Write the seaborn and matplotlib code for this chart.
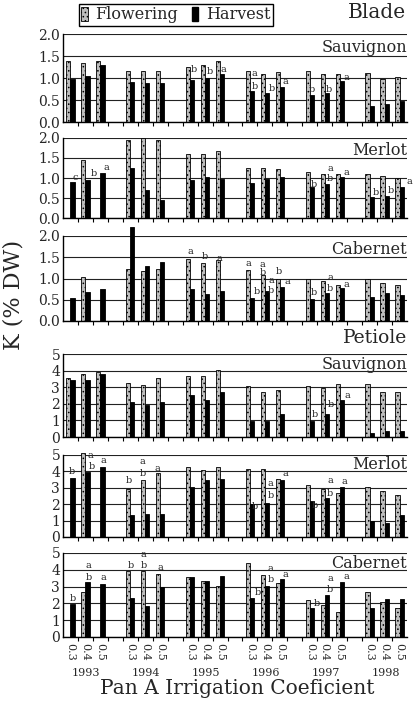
import numpy as np
import pandas as pd
import matplotlib
matplotlib.use('Agg')
import matplotlib.pyplot as plt
import seaborn as sns
from matplotlib.patches import Patch
from matplotlib.colors import to_rgba

# ---------------- data ----------------
years = ['1993', '1994', '1995', '1996', '1997', '1998']
coefs = ['0.3', '0.4', '0.5']
stages = ['Flowering', 'Harvest']
NA = np.nan

blade_sauv_flw = [1.38, 1.34, 1.38, 1.17, 1.17, 1.17, 1.25, 1.30, 1.39, 1.17, 1.08, 1.13, 1.17, 1.08, 1.08, 1.11, 0.98, 1.02]
blade_sauv_hrv = [0.98, 1.05, 1.29, 0.92, 0.89, 0.89, 0.96, 1.00, 1.08, 0.70, 0.66, 0.80, 0.61, 0.66, 0.94, 0.37, 0.42, 0.47]
blade_merl_flw = [NA, 1.45, NA, 1.95, 1.99, 1.95, 1.61, 1.61, 1.68, 1.26, 1.26, 1.22, 1.16, 1.10, 1.10, 1.10, 1.04, 0.99]
blade_merl_hrv = [0.89, 0.95, 1.12, 1.26, 0.71, 0.46, 0.96, 1.03, 0.98, 0.87, 0.98, 1.03, 0.77, 0.85, 1.02, 0.52, 0.55, 0.77]
blade_cab_flw = [NA, 1.03, NA, 1.22, 1.17, 1.22, 1.47, 1.37, 1.43, 1.19, 1.08, 0.98, 0.98, 0.93, 0.85, 0.98, 0.90, 0.85]
blade_cab_hrv = [0.55, 0.69, 0.75, 2.20, 1.29, 1.38, 0.75, 0.63, 0.71, 0.55, 0.71, 0.81, 0.51, 0.65, 0.77, 0.56, 0.67, 0.61]
pet_sauv_flw = [3.57, 3.78, 3.94, 3.27, 3.16, 3.57, 3.67, 3.67, 4.02, 3.06, 2.69, 2.86, 3.10, 2.96, 3.20, 3.20, 2.69, 2.69]
pet_sauv_hrv = [3.41, 3.41, 3.78, 2.10, 1.94, 2.10, 2.51, 2.24, 2.69, 0.96, 0.96, 1.39, 0.96, 1.39, 2.24, 0.27, 0.35, 0.35]
pet_merl_flw = [NA, 5.10, NA, 2.90, 3.45, 3.88, 4.24, 4.10, 4.24, 4.14, 4.14, 3.55, 3.20, 2.90, 2.70, 3.06, 2.80, 2.57]
pet_merl_hrv = [3.62, 3.98, 4.24, 1.33, 1.43, 1.43, 3.06, 3.47, 3.55, 2.04, 2.08, 3.47, 2.18, 2.35, 3.06, 0.98, 0.86, 1.33]
pet_cab_flw = [NA, 2.66, NA, 3.90, 3.90, 3.76, 3.56, 3.34, 3.06, 4.40, 3.70, 3.20, 2.20, 1.90, 1.46, 2.70, 2.10, 1.74]
pet_cab_hrv = [1.94, 3.30, 3.16, 2.30, 1.86, 2.96, 3.56, 3.34, 3.66, 2.34, 3.06, 3.44, 1.74, 2.50, 3.30, 1.74, 2.24, 2.24]

# significance letters: (year index, coef index, x offset, y value, letter)
letters_blade_sauv = [(2, 0, .23, 1.19, 'b'), (2, 1, .30, 1.15, 'b'), (2, 2, .23, 1.19, 'a'),
                      (3, 0, .30, 1.11, 'a'), (3, 0, .30, 0.80, 'b'), (3, 1, .43, 0.77, 'b'),
                      (3, 2, .37, 0.92, 'a'), (4, 0, .17, 0.73, 'b'), (4, 1, .30, 0.75, 'b'),
                      (4, 2, .43, 1.02, 'a')]
letters_blade_merl = [(0, 0, .30, 1.02, 'c'), (0, 1, .57, 1.12, 'b'), (0, 2, .37, 1.25, 'a'),
                      (4, 0, .30, 0.83, 'b'), (4, 1, .37, 1.24, 'a'), (4, 1, .37, 0.98, 'b'),
                      (4, 2, .43, 1.14, 'a'), (5, 0, .43, 0.64, 'b'), (5, 1, .43, 0.69, 'b'),
                      (5, 2, .63, 0.91, 'a')]
letters_blade_cab = [(2, 0, .03, 1.63, 'a'), (2, 1, -.03, 1.51, 'b'), (2, 2, -.03, 1.48, 'a'),
                     (3, 0, -.10, 1.35, 'a'), (3, 0, .43, 0.69, 'b'),
                     (3, 1, -.17, 1.32, 'a'), (3, 1, -.17, 1.13, 'b'), (3, 1, .40, 0.96, 'a'),
                     (3, 1, .40, 0.72, 'b'), (3, 2, -.05, 1.17, 'b'), (3, 2, .47, 0.93, 'a'),
                     (4, 0, .30, 0.67, 'b'), (4, 1, .37, 1.03, 'a'), (4, 1, .37, 0.77, 'b'),
                     (4, 2, .43, 0.85, 'a')]
letters_pet_sauv = [(4, 0, .37, 1.33, 'b'), (4, 1, .43, 1.94, 'b'), (4, 2, .50, 2.51, 'a')]
letters_pet_merl = [(0, 0, .10, 3.98, 'b'), (0, 1, .30, 4.96, 'a'), (0, 1, .43, 4.29, 'b'),
                    (0, 2, .17, 4.65, 'a'), (1, 0, -.10, 3.43, 'b'), (1, 1, -.17, 4.59, 'a'),
                    (1, 1, -.17, 3.88, 'b'), (1, 2, -.17, 4.18, 'a'), (3, 0, .30, 1.88, 'b'),
                    (3, 1, .37, 3.27, 'a'), (3, 1, .37, 2.55, 'b'), (3, 2, .37, 3.88, 'a'),
                    (4, 0, .37, 1.94, 'b'), (4, 1, .37, 3.47, 'a'), (4, 1, .37, 2.65, 'b'),
                    (4, 2, .30, 3.37, 'a')]
letters_pet_cab = [(0, 0, .17, 2.30, 'b'), (0, 1, .17, 4.24, 'a'), (0, 1, .23, 3.54, 'b'),
                   (0, 2, .23, 3.54, 'a'), (1, 0, .03, 4.24, 'b'), (1, 1, -.10, 4.90, 'a'),
                   (1, 1, -.10, 4.24, 'b'), (1, 2, .03, 4.14, 'a'), (3, 0, .50, 2.66, 'b'),
                   (3, 1, .37, 4.10, 'a'), (3, 1, .37, 3.40, 'b'), (3, 2, .37, 3.74, 'a'),
                   (4, 0, .50, 2.00, 'b'), (4, 1, .37, 3.50, 'a'), (4, 1, .37, 2.80, 'b'),
                   (4, 2, .43, 3.60, 'a')]

panels = [
    ('Sauvignon', 'blade', blade_sauv_flw, blade_sauv_hrv, letters_blade_sauv),
    ('Merlot', 'blade', blade_merl_flw, blade_merl_hrv, letters_blade_merl),
    ('Cabernet', 'blade', blade_cab_flw, blade_cab_hrv, letters_blade_cab),
    ('Sauvignon', 'petiole', pet_sauv_flw, pet_sauv_hrv, letters_pet_sauv),
    ('Merlot', 'petiole', pet_merl_flw, pet_merl_hrv, letters_pet_merl),
    ('Cabernet', 'petiole', pet_cab_flw, pet_cab_hrv, letters_pet_cab),
]

# ---------------- style ----------------
sns.set_style('ticks')
plt.rcParams['font.family'] = ['DejaVu Serif']
plt.rcParams['hatch.linewidth'] = 0.6

W, H = 416, 709
fig = plt.figure(figsize=(W / 100, H / 100), dpi=100)

# axes extents in pixels (top, bottom)
rows_px = [(34, 122), (138, 218), (236, 321), (354, 437), (455, 537), (553, 637)]
left_px, right_px = 63, 407

FLW_COLOR = '#bdbdbd'
pal = {'Flowering': FLW_COLOR, 'Harvest': 'black'}
GAP = 4  # slots per year (3 coefficients + spacer)

pos = [yi * GAP + ci for yi in range(len(years)) for ci in range(len(coefs))]
title_base = {'blade': 1.58, 'petiole': 4.12}

axes = []
for i, (variety, part, flw, hrv, letters) in enumerate(panels):
    top, bot = rows_px[i]
    ax = fig.add_axes([left_px / W, 1 - bot / H, (right_px - left_px) / W, (bot - top) / H])
    axes.append(ax)
    df = pd.DataFrame({
        'pos': pos * 2,
        'stage': ['Flowering'] * len(pos) + ['Harvest'] * len(pos),
        'K': list(flw) + list(hrv),
    }).dropna()
    sns.barplot(data=df, x='pos', y='K', hue='stage', hue_order=stages,
                native_scale=True, width=0.56, dodge=True, palette=pal,
                edgecolor='black', linewidth=0.6, errorbar=None, legend=False,
                saturation=1, ax=ax)
    for p in ax.patches:
        p.set_clip_on(False)
        if np.allclose(p.get_facecolor(), to_rgba(FLW_COLOR), atol=0.02):
            p.set_hatch('....')

    ymax = 2.0 if part == 'blade' else 5
    ax.set_ylim(0, ymax)
    if part == 'blade':
        yt = [0, 0.5, 1.0, 1.5, 2.0]
        ax.set_yticks(yt)
        ax.set_yticklabels([f'{v:.1f}' for v in yt])
    else:
        yt = [0, 1, 2, 3, 4, 5]
        ax.set_yticks(yt)
        ax.set_yticklabels([str(v) for v in yt])
    ax.set_xlim(-0.5, GAP * (len(years) - 1) + len(coefs) - 0.5)
    ax.set_xticks(pos)
    ax.set_xticks(np.arange(0.5, GAP * (len(years) - 1) + len(coefs) - 1, 1.0), minor=True)
    if i == len(panels) - 1:
        ax.set_xticklabels(coefs * len(years), rotation=-90, fontsize=8)
    else:
        ax.set_xticklabels([])
    ax.tick_params(axis='x', which='major', length=0, pad=4)
    ax.tick_params(axis='x', which='minor', length=3, width=0.8, direction='out', color='black')
    ax.tick_params(axis='y', length=0, pad=2, labelsize=10)
    ax.set_xlabel('')
    ax.set_ylabel('')
    ax.yaxis.grid(True, color='#222222', linewidth=0.8)
    ax.xaxis.grid(False)
    ax.set_axisbelow(True)
    for s in ['top', 'right']:
        ax.spines[s].set_visible(False)
    for s in ['left', 'bottom']:
        ax.spines[s].set_color('black')
        ax.spines[s].set_linewidth(1.0)

    ax.text(1.0, title_base[part], variety, transform=ax.get_yaxis_transform(),
            ha='right', va='baseline', fontsize=11.5)

    for (yi, ci, dx, yv, t) in letters:
        ax.text(yi * GAP + ci + dx, yv, t, ha='center', va='center', fontsize=7, clip_on=False)

# year labels under bottom panel
for yi, yr in enumerate(years):
    fig.text((left_px + (yi * GAP + 1 + 0.5) * 15) / W, 1 - 673 / H, yr,
             ha='center', va='center', fontsize=8)

fig.text(237 / W, 1 - 688 / H, 'Pan A Irrigation Coeficient', ha='center', va='center', fontsize=14.5)
fig.text(14 / W, 1 - 295 / H, 'K (% DW)', rotation=90, ha='center', va='center', fontsize=16)
fig.text(406 / W, 1 - 12 / H, 'Blade', ha='right', va='center', fontsize=14.5)
fig.text(407 / W, 1 - 338 / H, 'Petiole', ha='right', va='center', fontsize=13.5)

handles = [Patch(facecolor=FLW_COLOR, edgecolor='black', hatch='....', linewidth=0.6, label='Flowering'),
           Patch(facecolor='black', edgecolor='black', label='Harvest')]
leg = fig.legend(handles=handles, loc='upper left', bbox_to_anchor=(79 / W, 1 - 4 / H),
                 ncol=2, fontsize=11.5, frameon=True, fancybox=False, framealpha=1,
                 edgecolor='black', handlelength=0.4, handleheight=0.9, handletextpad=0.45,
                 columnspacing=0.9, borderpad=0.15, borderaxespad=0)
leg.get_frame().set_linewidth(1.0)

fig.savefig('out.png', dpi=100)
